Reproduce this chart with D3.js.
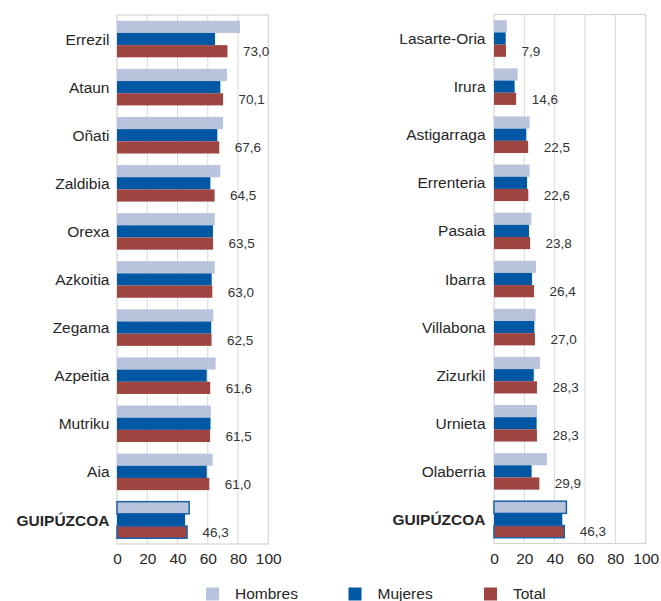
<!DOCTYPE html>
<html>
<head>
<meta charset="utf-8">
<script src="https://cdn.jsdelivr.net/npm/d3@7"></script>
<style>
  html, body { margin: 0; padding: 0; background: #ffffff; }
  svg { display: block; font-family: "Liberation Sans", Arial, sans-serif; }
</style>
</head>
<body>
<svg id="chart" width="661" height="601"></svg>
<script>
// ---- Data ----
const seriesNames = ["Hombres", "Mujeres", "Total"];
const seriesColors = ["#b8c4db", "#0057a4", "#9f4541"];

const leftCategories = ["Errezil", "Ataun", "Oñati", "Zaldibia", "Orexa", "Azkoitia", "Zegama", "Azpeitia", "Mutriku", "Aia", "GUIPÚZCOA"];
const leftHombres = [81.3, 72.7, 70.1, 68.3, 64.6, 64.6, 63.7, 65.2, 62.0, 63.2, 47.7];
const leftMujeres = [64.8, 68.3, 66.3, 61.7, 63.4, 62.6, 62.3, 59.3, 61.8, 59.3, 45.0];
const leftTotal   = [73.0, 70.1, 67.6, 64.5, 63.5, 63.0, 62.5, 61.6, 61.5, 61.0, 46.3];

const rightCategories = ["Lasarte-Oria", "Irura", "Astigarraga", "Errenteria", "Pasaia", "Ibarra", "Villabona", "Zizurkil", "Urnieta", "Olaberria", "GUIPÚZCOA"];
const rightHombres = [8.4, 15.6, 23.5, 23.5, 24.6, 27.7, 27.4, 30.3, 28.4, 34.9, 47.7];
const rightMujeres = [7.7, 13.6, 21.3, 21.8, 23.1, 25.1, 26.6, 26.2, 28.1, 24.8, 45.0];
const rightTotal   = [7.9, 14.6, 22.5, 22.6, 23.8, 26.4, 27.0, 28.3, 28.3, 29.9, 46.3];

const tickValues = [0, 20, 40, 60, 80, 100];
const totalCategory = "GUIPÚZCOA";

// ---- Drawing ----
const svg = d3.select("#chart");
const fmt = v => d3.format(".1f")(v).replace(".", ",");

function drawPanel(cats, hom, muj, tot, x0, x1, y0, y1, labelRight) {
  const g = svg.append("g");
  const x = d3.scaleLinear().domain([0, 100]).range([x0, x1]);
  const y = d3.scaleBand().domain(cats).range([y0, y1]).paddingInner(0.24).paddingOuter(0.12);
  const sub = d3.scaleBand().domain(seriesNames).range([0, y.bandwidth()]).padding(0);

  // gridlines
  g.selectAll("line.grid").data(tickValues.slice(1, -1)).join("line")
    .attr("x1", d => x(d)).attr("x2", d => x(d))
    .attr("y1", y0).attr("y2", y1)
    .attr("stroke", "#d9d9d9").attr("stroke-width", 1);
  // frame
  g.append("rect")
    .attr("x", x0).attr("y", y0).attr("width", x1 - x0).attr("height", y1 - y0)
    .attr("fill", "none").attr("stroke", "#d4d4d4").attr("stroke-width", 1.2);

  const rows = cats.map((c, i) => ({ cat: c, vals: [hom[i], muj[i], tot[i]] }));

  const grp = g.selectAll("g.row").data(rows).join("g")
    .attr("transform", d => `translate(0,${y(d.cat)})`);

  grp.selectAll("rect").data(d => d.vals.map((v, k) => ({ v, k, cat: d.cat }))).join("rect")
    .attr("x", x(0))
    .attr("y", d => sub(seriesNames[d.k]))
    .attr("width", d => x(d.v) - x(0))
    .attr("height", sub.bandwidth())
    .attr("fill", d => seriesColors[d.k])
    .attr("stroke", d => (d.cat === totalCategory && d.k !== 1) ? "#1f5fa8" : "none")
    .attr("stroke-width", 1.5);

  // value labels (Total)
  grp.append("text")
    .attr("x", d => x(d.vals[2]) + 15.5)
    .attr("y", sub("Total") + sub.bandwidth() / 2)
    .attr("dy", "0.36em")
    .attr("font-size", "13.5px")
    .attr("fill", "#333333")
    .text(d => fmt(d.vals[2]));

  // category labels
  grp.append("text")
    .attr("x", labelRight)
    .attr("y", sub("Mujeres") + sub.bandwidth() / 2)
    .attr("dy", "0.36em")
    .attr("text-anchor", "end")
    .attr("font-size", "15.5px")
    .attr("font-weight", d => d.cat === totalCategory ? "bold" : "normal")
    .attr("fill", "#262626")
    .text(d => d.cat);

  // x axis
  const axis = d3.axisBottom(x).tickValues(tickValues).tickSize(0).tickPadding(9).tickFormat(d3.format("d"));
  const ag = g.append("g").attr("transform", `translate(0,${y1})`).call(axis);
  ag.select(".domain").remove();
  ag.selectAll("text").attr("font-size", "15.5px").attr("fill", "#262626")
    .attr("font-family", "'Liberation Sans', Arial, sans-serif");
}

drawPanel(leftCategories, leftHombres, leftMujeres, leftTotal, 117, 268.3, 15, 544, 109.5);
drawPanel(rightCategories, rightHombres, rightMujeres, rightTotal, 494, 645.7, 14.5, 543.5, 485.5);

// legend
const legendX = [206, 348.5, 484];
const lg = svg.append("g");
seriesNames.forEach((s, i) => {
  lg.append("rect").attr("x", legendX[i]).attr("y", 587.5).attr("width", 13).attr("height", 13)
    .attr("fill", seriesColors[i]);
  lg.append("text").attr("x", legendX[i] + 29).attr("y", 598.5)
    .attr("font-size", "15.5px").attr("fill", "#262626").text(s);
});
</script>
</body>
</html>
